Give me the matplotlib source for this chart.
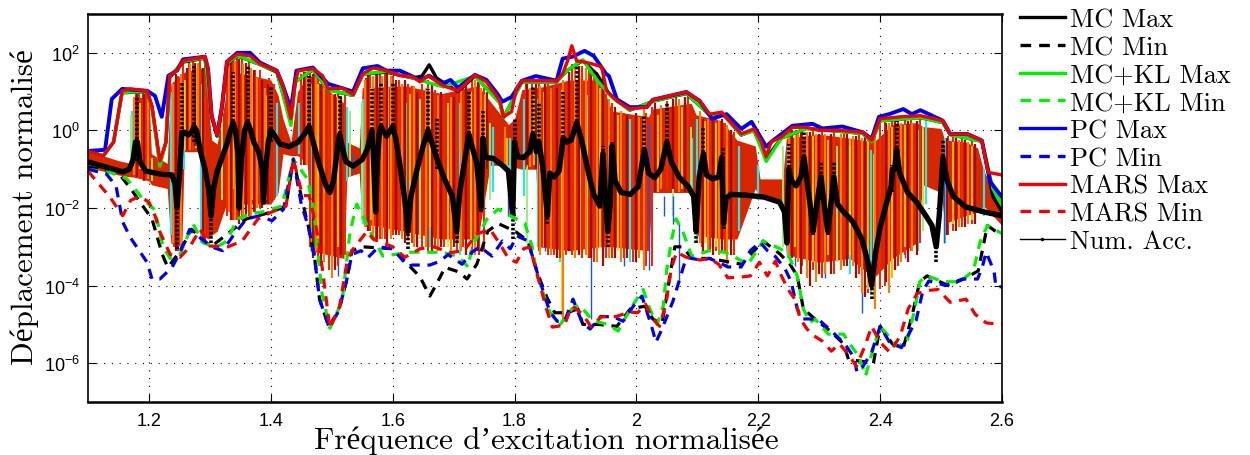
import numpy as np
import matplotlib
matplotlib.use("Agg")
import matplotlib.pyplot as plt
from matplotlib.lines import Line2D

plt.rcParams['mathtext.default'] = 'regular'

# All amplitudes are given as log10(normalised displacement)
mars_max_x = [1.10,1.125,1.142,1.156,1.169,1.197,1.205,1.218,1.228,1.234,1.246,1.256,1.292,1.297,1.303,1.312,1.32,1.328,1.345,1.366,1.382,1.41,1.42,1.433,1.44,1.445,1.469,1.485,1.494,1.518,1.535,1.551,1.568,1.59,1.612,1.633,1.645,1.658,1.683,1.707,1.735,1.754,1.776,1.782,1.795,1.803,1.812,1.869,1.879,1.887,1.894,1.902,1.912,1.926,1.943,1.951,1.968,1.989,2.017,2.027,2.082,2.104,2.12,2.14,2.172,2.193,2.205,2.213,2.221,2.238,2.256,2.279,2.3,2.333,2.372,2.386,2.4,2.433,2.466,2.503,2.515,2.543,2.567,2.577,2.6]
mars_max_y = [-0.53,-0.66,-0.30,1.02,1.07,1.02,0.63,-0.79,-0.30,1.41,1.54,1.8,1.9,1.59,0.38,-0.13,0.63,1.77,1.97,1.92,1.72,1.54,1.15,0.30,1.25,1.54,1.59,1.41,1.07,1.09,0.92,1.46,1.61,1.54,1.41,1.38,1.25,1.41,1.15,1.02,1.43,1.25,0.76,0.35,0.48,1.07,1.28,1.28,1.46,1.79,2.18,1.79,1.77,1.72,1.64,1.02,0.76,0.55,0.6,0.79,0.99,0.76,0.42,0.47,-0.09,0.04,-0.30,-0.68,-0.3,-0.17,0.08,0.08,0,0,-0.05,-0.26,0.3,0.35,0.38,0.25,-0.09,-0.09,-0.26,-1.08,-1.15]

pc_max_x = [1.10,1.128,1.139,1.156,1.197,1.21,1.221,1.232,1.246,1.256,1.292,1.297,1.303,1.312,1.32,1.328,1.345,1.366,1.382,1.41,1.42,1.433,1.442,1.469,1.494,1.535,1.551,1.575,1.59,1.612,1.645,1.66,1.68,1.695,1.707,1.735,1.754,1.772,1.78,1.795,1.812,1.835,1.869,1.879,1.895,1.915,1.93,1.95,1.955,1.968,1.989,2.017,2.027,2.082,2.104,2.124,2.148,2.172,2.189,2.213,2.221,2.256,2.289,2.305,2.338,2.372,2.386,2.398,2.415,2.438,2.452,2.466,2.48,2.503,2.515,2.543,2.567,2.581,2.6]
pc_max_y = [-0.53,-0.5,0.81,1.07,1.02,0.89,0.35,1.41,1.54,1.83,1.9,1.59,0.38,-0.13,0.63,1.77,2.0,2.0,1.75,1.54,1.15,0.55,1.54,1.62,1.2,1.0,1.6,1.66,1.54,1.54,1.3,1.41,1.2,1.3,1.1,1.43,1.3,0.94,0.74,0.86,1.28,1.4,1.28,1.85,1.9,2.05,1.92,1.46,1.4,0.8,0.6,0.6,0.79,0.99,0.76,0.3,0.42,0.04,0.22,-0.42,-0.3,0.12,0.17,0.05,0.1,-0.05,-0.22,0.35,0.42,0.55,0.42,0.52,0.42,0.25,-0.09,-0.09,-0.26,-1.33,-1.72]

mc_kl_max_x = [1.10,1.125,1.142,1.156,1.197,1.205,1.218,1.228,1.234,1.256,1.292,1.303,1.312,1.32,1.328,1.345,1.382,1.41,1.433,1.44,1.469,1.494,1.535,1.551,1.59,1.633,1.683,1.735,1.776,1.782,1.812,1.869,1.887,1.912,1.935,1.96,1.989,2.027,2.082,2.12,2.14,2.172,2.193,2.213,2.238,2.279,2.372,2.386,2.4,2.466,2.503,2.515,2.567,2.585,2.6]
mc_kl_max_y = [-0.53,-0.66,-0.30,0.98,1.0,0.6,-0.92,-0.3,1.38,1.78,1.87,0.35,-0.15,0.6,1.72,1.93,1.7,1.52,0.13,1.25,1.57,1.05,0.9,1.45,1.52,1.35,1.12,1.4,0.7,0.33,1.25,1.26,1.55,1.82,1.3,0.85,0.52,0.75,0.96,0.4,0.45,-0.12,0.0,-0.8,-0.2,0.05,-0.08,-0.3,0.25,0.33,0.2,-0.11,-0.28,-1.5,-1.93]

mc_max_x = [1.10,1.125,1.142,1.156,1.197,1.205,1.218,1.228,1.234,1.256,1.292,1.303,1.312,1.32,1.328,1.345,1.382,1.41,1.433,1.44,1.469,1.494,1.535,1.551,1.59,1.633,1.648,1.66,1.672,1.707,1.735,1.776,1.782,1.812,1.869,1.887,1.912,1.935,1.955,1.989,2.027,2.082,2.12,2.14,2.172,2.193,2.213,2.238,2.279,2.372,2.386,2.4,2.466,2.503,2.515,2.567,2.585,2.6]
mc_max_y = [-0.53,-0.66,-0.30,0.97,1.0,0.6,-0.85,-0.3,1.36,1.76,1.86,0.35,-0.15,0.6,1.7,1.92,1.7,1.5,0.2,1.25,1.56,1.05,0.9,1.45,1.5,1.35,1.4,1.69,1.35,1.0,1.4,0.72,0.33,1.25,1.25,1.55,1.8,1.45,0.95,0.52,0.75,0.95,0.4,0.45,-0.12,0.0,-0.72,-0.2,0.05,-0.08,-0.3,0.25,0.33,0.2,-0.11,-0.28,-1.7,-2.1]

mars_min_x = [1.10,1.136,1.157,1.17,1.185,1.2,1.21,1.218,1.235,1.251,1.267,1.284,1.3,1.33,1.353,1.379,1.402,1.425,1.437,1.452,1.463,1.472,1.48,1.497,1.513,1.525,1.533,1.558,1.568,1.6,1.62,1.645,1.667,1.695,1.717,1.738,1.76,1.776,1.79,1.803,1.815,1.825,1.838,1.851,1.862,1.882,1.89,1.895,1.912,1.925,1.943,1.966,1.989,2.002,2.015,2.027,2.038,2.049,2.057,2.066,2.082,2.104,2.12,2.135,2.15,2.172,2.187,2.202,2.215,2.228,2.238,2.249,2.26,2.269,2.28,2.292,2.305,2.32,2.333,2.348,2.361,2.375,2.386,2.4,2.416,2.433,2.446,2.461,2.482,2.495,2.515,2.541,2.556,2.574,2.597,2.6]
mars_min_y = [-1.05,-1.72,-2.2,-1.8,-1.7,-1.85,-2.2,-2.62,-3.2,-3.27,-3.0,-2.55,-2.98,-3.0,-2.85,-2.28,-2.1,-1.95,-0.74,-1.68,-1.68,-2.3,-3.0,-5.1,-4.53,-3.4,-3.1,-2.6,-2.8,-3.0,-3.27,-3.05,-3.0,-3.15,-3.1,-2.67,-2.55,-2.93,-3.3,-3.4,-3.05,-3.0,-3.75,-4.53,-5.07,-5.02,-4.68,-4.53,-4.74,-5.05,-4.8,-4.8,-4.68,-4.7,-4.48,-4.86,-5.05,-4.43,-3.57,-3.14,-3.27,-3.34,-3.3,-3.45,-3.8,-3.78,-3.75,-3.4,-3.75,-3.37,-3.75,-4.1,-4.35,-4.86,-5.12,-5.3,-5.43,-5.69,-5.5,-5.77,-6.08,-5.56,-5.05,-5.46,-5.72,-5.3,-4.6,-4.2,-4.12,-4.1,-4.43,-4.35,-4.74,-4.96,-5.0,-5.0]

pc_min_x = [1.10,1.13,1.146,1.157,1.169,1.197,1.205,1.218,1.238,1.251,1.267,1.302,1.321,1.338,1.36,1.382,1.402,1.421,1.437,1.45,1.462,1.472,1.48,1.495,1.511,1.525,1.533,1.548,1.56,1.577,1.6,1.625,1.633,1.661,1.678,1.691,1.714,1.73,1.743,1.763,1.78,1.793,1.804,1.822,1.837,1.858,1.87,1.882,1.896,1.911,1.924,1.941,1.962,1.978,1.995,2.009,2.025,2.032,2.042,2.06,2.082,2.104,2.12,2.135,2.15,2.172,2.187,2.203,2.215,2.228,2.244,2.254,2.264,2.272,2.298,2.32,2.342,2.357,2.362,2.372,2.386,2.4,2.415,2.435,2.459,2.47,2.48,2.508,2.535,2.56,2.568,2.574,2.587,2.59,2.6]
pc_min_y = [-1.0,-1.12,-1.43,-2.36,-2.75,-3.4,-3.83,-3.83,-3.53,-3.14,-2.55,-3.0,-3.1,-2.72,-2.28,-2.2,-2.33,-2.03,-0.74,-1.9,-2.5,-3.3,-4.35,-5.05,-4.68,-3.83,-3.2,-3.1,-3.27,-3.0,-3.05,-3.5,-3.47,-3.47,-3.37,-3.2,-3.45,-3.14,-3.0,-3.24,-2.85,-3.05,-2.72,-2.85,-3.65,-4.68,-4.92,-4.92,-4.35,-4.96,-5.12,-4.8,-4.8,-4.92,-4.53,-4.27,-5.05,-5.46,-5.12,-4.4,-3.27,-3.34,-3.3,-3.4,-3.52,-3.52,-3.1,-2.88,-3.1,-3.25,-3.57,-3.9,-4.6,-4.86,-4.86,-5.17,-5.5,-5.85,-6.23,-6.08,-5.72,-5.05,-5.45,-5.6,-4.9,-4.14,-3.88,-4.0,-3.83,-3.83,-3.5,-3.14,-3.63,-4.03,-4.03]

mc_kl_min_x = [1.10,1.14,1.164,1.19,1.21,1.223,1.235,1.251,1.272,1.289,1.312,1.328,1.345,1.366,1.387,1.418,1.427,1.437,1.46,1.47,1.484,1.497,1.517,1.53,1.541,
               1.563,1.584,1.628,1.681,1.707,1.724,1.73,1.755,1.773,1.793,1.817,1.829,1.837,1.858,1.875,1.894,1.907,1.928,1.953,1.97,1.99,2.011,2.022,2.034,2.044,2.05,2.058,2.065,2.076,2.091,2.12,2.145,2.158,2.183,2.208,2.236,2.249,2.264,2.274,2.285,2.293,2.315,2.34,2.348,2.365,2.376,2.389,2.4,2.428,2.444,2.457,2.465,2.477,2.504,2.531,2.553,2.564,2.576,2.6]
mc_kl_min_y = [-1.0,-1.1,-1.25,-1.77,-2.05,-3.0,-3.3,-3.2,-2.4,-2.9,-3.0,-2.85,-2.28,-2.15,-2.1,-1.95,-1.4,-0.74,-1.25,-2.0,-4.2,-5.1,-4.4,-2.62,-1.9,
               -2.6,-3.24,-3.14,-3.14,-3.24,-3.52,-3.0,-2.28,-2.03,-2.2,-2.4,-3.0,-3.75,-4.68,-5.0,-4.6,-4.5,-4.9,-5.0,-5.17,-4.6,-4.1,-4.6,-5.0,-4.53,-3.57,-2.8,-2.28,-2.6,-3.24,-3.1,-3.14,-3.24,-3.45,-2.85,-3.05,-3.19,-3.75,-4.6,-4.95,-4.86,-5.25,-5.25,-5.46,-5.82,-6.33,-5.6,-5.05,-5.56,-5.46,-4.6,-3.9,-3.75,-3.9,-3.9,-3.62,-2.88,-2.45,-2.66]

mc_min_x = [1.10,1.15,1.17,1.19,1.205,1.222,1.231,1.25,1.27,1.302,1.36,1.402,1.425,1.437,1.45,1.462,1.472,1.48,1.495,1.511,1.525,1.533,1.55,1.6,1.628,1.645,1.661,1.672,1.686,1.709,1.722,1.738,1.756,1.773,1.801,1.822,1.837,1.853,1.866,1.886,1.904,1.912,1.937,1.968,1.99,2.014,2.027,2.042,2.055,2.063,2.076,2.091,2.12,2.173,2.208,2.236,2.252,2.264,2.274,2.293,2.318,2.34,2.348,2.389,2.4,2.42,2.438,2.452,2.465,2.477,2.512,2.537,2.561,2.576,2.6]
mc_min_y = [-0.95,-1.1,-1.5,-1.95,-2.28,-3.2,-3.53,-3.14,-2.55,-3.0,-2.28,-2.1,-1.95,-0.74,-1.7,-2.5,-3.3,-4.35,-5.05,-4.68,-3.83,-3.1,-3.0,-3.05,-3.5,-3.78,-4.27,-3.96,-3.53,-3.65,-3.83,-3.45,-2.6,-2.4,-2.6,-2.85,-3.65,-4.3,-4.7,-4.7,-4.6,-5.0,-5.0,-5.05,-4.6,-4.53,-4.86,-5.0,-3.75,-3.0,-3.0,-3.3,-3.3,-3.45,-2.85,-3.19,-3.45,-3.75,-4.6,-4.86,-5.17,-5.5,-5.9,-6.0,-5.05,-5.5,-5.6,-4.8,-3.9,-3.75,-4.0,-3.83,-3.62,-2.45,-2.72]

# Num. Acc. curve
num_x = [1.10,1.13,1.157,1.168,1.174,1.178,1.181,1.185,1.195,1.22,1.238,1.243,1.246,1.25,1.254,1.258,1.264,1.27,1.274,1.278,1.284,1.292,1.298,1.302,1.306,1.312,1.32,1.328,1.334,1.338,1.342,1.346,1.348,1.352,1.357,1.362,1.367,1.372,1.38,1.386,1.388,1.392,1.396,1.40,1.405,1.415,1.43,1.445,1.455,1.463,1.468,1.478,1.49,1.497,1.503,1.51,1.513,1.517,1.523,1.535,1.55,1.558,1.564,1.566,1.568,1.572,1.575,1.578,1.581,1.584,1.59,1.596,1.60,1.605,1.612,1.62,1.625,1.63,1.64,1.65,1.658,1.664,1.672,1.685,1.698,1.705,1.71,1.718,1.725,1.73,1.738,1.745,1.748,1.752,1.765,1.78,1.79,1.797,1.80,1.805,1.815,1.825,1.83,1.836,1.84,1.846,1.854,1.858,1.865,1.873,1.88,1.886,1.893,1.902,1.91,1.92,1.93,1.94,1.945,1.95,1.953,1.957,1.96,1.965,1.975,1.99,2.003,2.013,2.02,2.03,2.04,2.05,2.057,2.07,2.085,2.094,2.098,2.103,2.11,2.115,2.125,2.135,2.14,2.143,2.147,2.155,2.18,2.21,2.235,2.243,2.247,2.25,2.255,2.262,2.27,2.275,2.28,2.285,2.29,2.296,2.303,2.308,2.314,2.32,2.324,2.33,2.34,2.355,2.37,2.38,2.386,2.392,2.4,2.41,2.418,2.42,2.424,2.427,2.432,2.445,2.46,2.475,2.485,2.492,2.497,2.503,2.51,2.52,2.54,2.57,2.6]
num_y = [-0.81,-0.95,-1.07,-1.0,-0.75,-0.3,-0.3,-0.8,-1.05,-1.13,-1.15,-1.4,-2.0,-1.2,-0.05,-0.05,-0.12,-0.05,0.1,0.0,-0.5,-1.0,-1.5,-2.2,-1.5,-1.05,-0.7,-0.35,0.0,0.2,0.0,-0.6,-2.0,-0.7,0.0,0.2,0.0,-0.3,-0.55,-1.0,-1.85,-0.9,-0.3,0.0,-0.1,-0.35,-0.42,-0.3,-0.1,0.1,-0.2,-0.8,-1.4,-1.6,-1.3,-0.4,-0.1,-0.4,-0.8,-0.92,-0.75,-0.5,-0.1,0.0,-0.5,-2.1,-0.8,-0.1,0.1,0.0,-0.15,0.0,0.1,-0.2,-0.9,-1.8,-2.6,-1.7,-1.0,-0.4,0.0,-0.3,-0.7,-1.25,-1.7,-2.6,-1.6,-0.8,-0.1,-0.4,-0.85,-2.0,-0.2,-0.7,-0.72,-0.9,-1.05,-2.2,-0.3,-0.68,-0.7,-0.55,-0.1,-0.55,-0.3,-0.9,-2.2,-1.1,-1.2,-1.05,-0.2,-0.3,-0.25,0.2,-0.25,-1.0,-1.65,-1.95,-0.6,-1.9,-2.6,-1.9,-0.4,-1.3,-1.6,-1.65,-1.45,-0.5,-1.1,-1.22,-1.0,-0.3,-0.8,-1.2,-1.45,-1.7,-2.6,-1.2,-0.6,-1.15,-1.25,-1.2,-0.7,-2.4,-1.75,-1.65,-1.67,-1.72,-1.85,-2.1,-2.9,-1.0,-1.3,-1.43,-1.2,-0.7,-1.3,-1.9,-2.6,-1.9,-1.2,-1.9,-2.6,-1.8,-1.2,-1.9,-2.1,-2.35,-2.8,-3.4,-4.0,-3.2,-2.5,-1.9,-1.45,-1.0,-1.0,-0.5,-1.1,-1.6,-1.85,-2.2,-2.45,-3.0,-2.2,-0.7,-1.3,-1.7,-1.97,-2.1,-2.2]

# Num. Acc. sharp features (dotted spikes)
peak_x = [1.18,1.254,1.274,1.338,1.362,1.40,1.463,1.513,1.566,1.581,1.60,1.658,1.672,1.725,1.748,1.80,1.83,1.84,1.88,1.902,1.945,1.96,2.013,2.05,2.11,2.142,2.25,2.275,2.303,2.324,2.42,2.427,2.503]
peak_top = [0.89,1.25,1.66,1.5,1.66,1.15,1.4,1.0,1.07,1.25,1.25,1.07,0.35,1.0,0.5,0.3,1.15,0.7,1.0,1.8,-0.4,-0.3,0.38,0.73,0.08,-0.42,-0.35,-0.04,-0.8,-0.82,-0.9,0.25,-0.26]
peak_base = [-0.8,-0.3,-0.3,0.0,0.0,-0.3,-0.1,-0.3,-0.1,-0.1,-0.1,-0.3,-1.0,-0.3,-0.8,-0.8,-0.3,-0.6,-0.3,0.0,-1.1,-0.9,-0.7,-0.6,-0.8,-1.3,-1.5,-0.8,-1.8,-1.8,-1.6,-0.8,-0.9]
dip_x = [1.246,1.302,1.348,1.388,1.572,1.625,1.705,1.745,1.797,1.854,1.953,2.098,2.143,2.247,2.29,2.314,2.386,2.492]
dip_bottom = [-3.05,-2.9,-2.0,-1.85,-2.1,-3.05,-2.9,-2.1,-2.8,-2.4,-3.0,-2.9,-2.55,-2.9,-2.7,-2.7,-4.35,-3.4]
dip_start = [-2.0,-2.2,-1.6,-1.4,-1.8,-2.6,-2.6,-1.8,-2.2,-2.2,-2.6,-2.6,-2.4,-2.9,-2.6,-2.6,-4.0,-3.0]

# Envelope of the dense family of sampled responses
fan_x = [1.10,1.15,1.17,1.174,1.20,1.204,1.23,1.236,1.254,1.258,1.285,1.29,1.297,1.303,1.312,1.325,1.33,1.40,1.412,1.42,1.433,1.444,1.46,1.466,1.52,1.525,1.545,1.55,1.62,1.68,1.74,1.76,1.79,1.80,1.812,1.835,1.84,1.89,1.94,1.96,2.02,2.026,2.09,2.098,2.14,2.165,2.195,2.203,2.24,2.246,2.30,2.35,2.39,2.42,2.46,2.47,2.50,2.506,2.54,2.56,2.57,2.6]
fan_hi = [-0.53,-0.78,-0.85,0.85,0.85,-0.6,-0.85,1.2,1.45,1.5,1.6,1.6,0.7,-0.25,-0.35,0.8,1.55,1.3,0.9,0.3,-0.3,1.0,1.4,1.4,0.7,-0.3,-0.45,1.1,1.15,0.95,1.15,0.75,0.15,0.3,1.05,1.1,1.1,1.3,1.3,0.5,0.35,0.55,0.7,0.4,0.25,-0.25,-0.4,-1.25,-1.25,-0.2,-0.1,-0.2,-0.3,0.15,0.2,0.1,0.05,-0.25,-0.3,-0.45,-1.05,-1.85]
fan_lo = [-0.95,-1.15,-1.2,-1.2,-1.3,-1.4,-1.5,-2.9,-3.0,-0.55,-0.55,-2.7,-2.8,-2.7,-2.6,-2.0,-1.9,-1.9,-1.6,-0.6,-0.65,-0.65,-0.85,-3.1,-3.3,-1.2,-1.1,-2.4,-2.6,-2.8,-2.8,-0.9,-0.9,-0.95,-1.0,-1.0,-3.0,-3.1,-3.0,-3.0,-3.1,-1.6,-1.6,-2.7,-2.8,-2.8,-1.5,-1.75,-1.8,-3.2,-3.4,-3.3,-3.8,-3.3,-2.9,-1.4,-1.6,-2.4,-2.2,-2.1,-1.95,-2.45]

# Individual samples, by colour: frequency, upper and lower excursion
red_x = [1.178,1.184,1.19,1.195,1.241,1.248,1.256,1.265,1.272,1.284,1.292,1.328,1.338,1.345,1.352,1.364,1.374,1.382,1.397,1.405,1.45,1.458,1.465,1.472,1.478,1.495,1.51,1.522,1.556,1.562,1.572,1.58,1.588,1.6,1.61,1.625,1.632,1.648,1.658,1.67,1.685,1.705,1.716,1.73,1.742,1.75,1.818,1.828,1.84,1.855,1.865,1.875,1.885,1.895,1.91,1.922,1.93,1.95,1.96,1.98,1.995,2.015,2.025,2.05,2.065,2.085,2.108,2.12,2.13,2.145,2.16,2.252,2.262,2.272,2.29,2.305,2.325,2.34,2.365,2.38,2.4,2.408,2.42,2.43,2.44,2.45,2.465,2.512,2.52,2.535,2.55]
red_hi = [1.0,1.0,1.0,1.0,1.25,1.4,1.7,1.78,1.8,1.8,1.75,1.7,1.9,1.9,1.85,1.8,1.55,1.55,1.35,1.2,1.45,1.5,1.52,1.5,1.4,1.0,0.95,0.9,1.35,1.45,1.5,1.5,1.45,1.4,1.3,1.2,1.15,1.2,1.3,1.05,0.95,0.95,1.2,1.35,1.2,1.1,1.2,1.2,1.2,1.2,1.15,1.15,1.25,1.7,1.65,1.6,1.55,0.95,0.7,0.45,0.4,0.45,0.6,0.75,0.85,0.85,0.35,0.35,0.3,0.2,-0.05,0.0,0.02,0.02,0.02,-0.05,-0.05,-0.08,-0.1,-0.15,0.25,0.25,0.3,0.3,0.3,0.3,0.3,-0.15,-0.15,-0.2,-0.25]
red_lo = [-1.2,-1.2,-1.25,-1.25,-3.0,-3.1,-0.5,-0.5,-0.5,-0.5,-2.9,-2.2,-2.3,-2.3,-2.3,-2.2,-2.1,-2.0,-1.9,-1.8,-0.9,-0.9,-3.0,-3.2,-3.4,-3.6,-3.5,-3.2,-2.5,-2.6,-2.8,-2.8,-2.8,-2.7,-2.7,-2.8,-2.9,-3.0,-3.1,-3.0,-3.0,-3.1,-3.0,-3.2,-3.2,-3.1,-0.95,-0.95,-3.1,-3.2,-3.2,-3.3,-3.2,-3.2,-3.3,-3.3,-3.4,-3.3,-3.3,-3.3,-3.4,-3.5,-3.5,-1.5,-1.5,-1.55,-3.0,-3.1,-3.1,-3.1,-3.2,-3.2,-3.3,-3.5,-3.6,-3.8,-3.7,-3.5,-3.7,-4.2,-4.1,-4.0,-3.8,-3.5,-3.2,-3.1,-2.9,-2.7,-2.6,-2.5,-2.4]

dark_x = [1.18,1.192,1.245,1.262,1.275,1.288,1.335,1.348,1.36,1.372,1.385,1.395,1.455,1.47,1.482,1.505,1.515,1.56,1.575,1.59,1.605,1.62,1.64,1.665,1.68,1.70,1.72,1.74,1.755,1.82,1.835,1.85,1.87,1.89,1.905,1.925,1.945,1.965,1.985,2.00,2.03,2.06,2.08,2.11,2.125,2.14,2.155,2.255,2.27,2.285,2.30,2.32,2.345,2.36,2.375,2.41,2.425,2.445,2.46,2.51,2.525,2.54,2.555]
dark_hi = [0.95,0.95,1.45,1.6,1.75,1.6,1.85,1.85,1.75,1.55,1.3,1.2,1.5,1.45,1.2,0.95,0.85,1.5,1.45,1.45,1.3,1.3,1.0,1.25,1.0,0.85,1.25,1.25,1.0,1.2,1.2,1.2,1.1,1.5,1.65,1.55,1.4,0.6,0.4,0.45,0.7,0.8,0.85,0.3,0.35,0.3,0.0,0.0,-0.05,-0.05,-0.1,-0.1,-0.1,-0.15,-0.15,0.2,0.25,0.25,0.25,-0.2,-0.2,-0.25,-0.35]
dark_lo = [-1.2,-1.3,-3.1,-0.5,-0.4,-2.9,-2.3,-2.4,-2.2,-2.1,-2.0,-1.9,-0.9,-3.3,-3.5,-3.6,-3.2,-2.6,-2.8,-2.9,-2.7,-2.9,-3.0,-3.1,-3.0,-3.0,-3.2,-3.1,-1.0,-0.9,-1.0,-3.0,-3.3,-3.1,-3.2,-3.3,-3.5,-3.3,-3.3,-3.4,-1.6,-1.5,-1.6,-3.1,-3.2,-3.1,-3.2,-3.3,-3.7,-4.0,-3.7,-3.7,-3.5,-3.8,-4.3,-3.9,-3.6,-3.4,-3.2,-2.7,-2.6,-2.5,-2.4]

orange_x = [1.175,1.198,1.24,1.252,1.268,1.28,1.332,1.342,1.355,1.368,1.378,1.39,1.46,1.475,1.488,1.5,1.555,1.568,1.583,1.598,1.615,1.635,1.655,1.675,1.695,1.712,1.735,1.745,1.785,1.825,1.842,1.86,1.88,1.9,1.918,1.935,1.955,1.975,2.005,2.012,2.04,2.07,2.105,2.118,2.135,2.148,2.25,2.265,2.28,2.295,2.31,2.335,2.355,2.37,2.392,2.415,2.435,2.452,2.51,2.53,2.545]
orange_hi = [0.85,0.9,1.2,1.45,1.7,1.75,1.7,1.8,1.7,1.6,1.35,1.1,1.45,1.4,1.25,0.95,1.3,1.4,1.4,1.4,1.2,1.15,1.1,0.9,0.85,1.1,1.3,1.1,0.1,1.1,1.15,1.1,1.3,1.6,1.6,1.5,0.8,0.5,0.35,0.55,0.65,0.8,0.5,0.3,0.25,0.15,-0.05,-0.02,-0.05,-0.08,-0.1,-0.1,-0.15,-0.2,0.1,0.2,0.2,0.2,-0.2,-0.25,-0.3]
orange_lo = [-1.15,-1.25,-2.9,-3.0,-0.5,-0.5,-2.1,-2.3,-2.3,-2.2,-2.0,-1.9,-0.9,-3.1,-3.4,-3.8,-2.5,-2.7,-2.8,-2.8,-2.8,-3.0,-3.0,-3.1,-3.2,-3.1,-3.2,-1.0,-1.0,-0.95,-3.2,-3.2,-4.9,-3.3,-3.2,-3.4,-3.3,-3.4,-3.3,-3.6,-1.5,-1.6,-2.9,-3.1,-3.2,-3.5,-3.2,-3.4,-3.8,-3.9,-3.7,-3.6,-3.5,-4.2,-4.6,-4.2,-3.4,-3.1,-2.6,-2.5,-2.4]

yellow_x = [1.186,1.26,1.278,1.34,1.37,1.392,1.478,1.51,1.565,1.592,1.628,1.662,1.69,1.728,1.752,1.788,1.832,1.848,1.878,1.908,1.94,1.97,2.0,2.035,2.075,2.112,2.13,2.26,2.29,2.315,2.35,2.38,2.42,2.44,2.47,2.52,2.55]
yellow_hi = [0.7,1.3,1.6,1.5,1.4,0.9,1.2,0.85,1.1,1.15,0.95,1.0,0.7,1.0,0.9,-0.2,0.9,1.0,1.05,1.4,1.1,0.4,0.3,0.4,0.6,0.25,0.2,-0.1,-0.15,-0.25,-0.2,-0.25,0.1,0.15,0.0,-0.3,-0.4]
yellow_lo = [-1.0,-0.5,-0.45,-1.5,-1.8,-1.8,-2.8,-3.0,-2.3,-2.6,-2.5,-2.5,-3.0,-3.0,-0.8,-1.0,-0.9,-3.0,-4.8,-3.1,-3.0,-3.1,-3.2,-1.6,-1.5,-2.9,-3.0,-3.0,-3.4,-3.2,-3.2,-4.1,-3.8,-3.0,-1.9,-2.4,-2.3]

cyan_x = [1.172,1.237,1.257,1.286,1.33,1.41,1.447,1.466,1.525,1.552,1.622,1.662,1.71,1.765,1.792,1.815,1.838,1.875,1.945,1.99,2.025,2.092,2.1,2.168,2.2,2.248,2.28,2.35,2.385,2.462,2.475,2.507,2.57]
cyan_hi = [0.5,1.0,1.3,1.2,1.4,0.7,0.7,1.2,0.6,0.8,0.7,0.8,0.7,0.1,-0.2,0.8,0.8,1.1,1.1,0.3,0.4,-0.2,0.3,-0.4,-0.9,-0.4,-0.2,-0.4,-0.5,0.0,0.3,-0.2,-1.0]
cyan_lo = [-1.0,-2.7,-1.0,-2.9,-2.1,-1.7,-0.6,-3.1,-1.3,-2.4,-2.7,-3.0,-3.2,-1.6,-2.0,-1.7,-3.0,-3.4,-3.3,-3.4,-3.3,-1.5,-2.9,-2.6,-1.8,-3.3,-3.8,-3.7,-4.2,-3.1,-1.9,-2.9,-2.2]

lime_x = [1.17,1.205,1.24,1.32,1.45,1.53,1.55,1.645,1.76,1.82,1.92,2.0,2.06,2.09,2.24,2.33,2.39,2.47]
lime_hi = [0.4,-0.7,0.8,1.0,0.8,0.5,0.7,0.8,0.2,0.6,0.9,0.2,0.5,0.1,-0.4,-0.4,-0.6,0.1]
lime_lo = [-0.9,-1.3,-2.5,-1.8,-0.7,-1.2,-2.3,-2.8,-1.8,-2.9,-3.3,-3.4,-2.2,-1.4,-3.0,-3.4,-4.3,-2.6]

blue_x = [1.248,1.51,1.535,1.64,1.79,1.85,1.925,1.925,1.98,2.02,2.045,2.06,2.07,2.26,2.31,2.37,2.44,2.505]
blue_hi = [0.6,0.4,-0.6,0.9,-1.0,0.5,-0.5,-2.2,0.3,0.2,-1.7,-1.7,-2.4,-0.4,-1.2,-0.7,0.2,-0.4]
blue_lo = [-2.6,-3.75,-1.1,-3.0,-2.2,-3.1,-2.8,-4.85,-3.5,-3.6,-2.2,-2.4,-3.9,-3.5,-3.8,-4.7,-3.3,-2.9]

legend_labels = ['MC Max','MC Min','MC+KL Max','MC+KL Min','PC Max','PC Min','MARS Max','MARS Min','Num. Acc.']
x_ticks = [1.2,1.4,1.6,1.8,2.0,2.2,2.4,2.6]
x_tick_labels = ['1.2','1.4','1.6','1.8','2','2.2','2.4','2.6']
y_ticks = [1e-6,1e-4,1e-2,1e0,1e2]
y_tick_labels = ['$10^{-6}$','$10^{-4}$','$10^{-2}$','$10^{0}$','$10^{2}$']

def v(a):
    return np.power(10.0, np.asarray(a, dtype=float))

SERIF = ['cmr10', 'Liberation Serif']

fig = plt.figure(figsize=(12.5, 4.56), dpi=100)
ax = fig.add_axes([88/1250, 1-403/456, 914/1250, 388/456])
ax.set_yscale('log')

ax.fill_between(fan_x, v(fan_lo), v(fan_hi), color='#d82600', lw=0, zorder=2)
strokes = [(cyan_x, cyan_hi, cyan_lo, '#22e8ee', 1.6),
           (lime_x, lime_hi, lime_lo, '#90f070', 1.3),
           (blue_x, blue_hi, blue_lo, '#1e50f0', 1.0),
           (red_x, red_hi, red_lo, '#ee2a00', 1.5),
           (yellow_x, yellow_hi, yellow_lo, '#ffd400', 1.2),
           (orange_x, orange_hi, orange_lo, '#ff7a00', 1.5),
           (dark_x, dark_hi, dark_lo, '#a80a00', 1.6)]
for xs, hi, lo, col, w in strokes:
    ax.vlines(xs, v(lo), v(hi), colors=col, lw=w, zorder=3)

ax.vlines(peak_x, v(peak_base), v(peak_top), colors='k', lw=2.6, linestyles=(0, (0.7, 0.5)), zorder=5)
ax.vlines(dip_x, v(dip_bottom), v(dip_start), colors='k', lw=2.6, linestyles=(0, (0.7, 0.5)), zorder=5)
ax.plot(num_x, v(num_y), color='k', lw=3.9, zorder=5, solid_joinstyle='round')

dash = (0, (3.2, 2.4))
ax.plot(mc_min_x, v(mc_min_y), color='k', lw=2.3, ls=dash, zorder=6)
ax.plot(mc_kl_min_x, v(mc_kl_min_y), color='#00f000', lw=2.3, ls=dash, zorder=6)
ax.plot(pc_min_x, v(pc_min_y), color='#0000f0', lw=2.3, ls=dash, zorder=7)
ax.plot(mars_min_x, v(mars_min_y), color='#f00000', lw=2.3, ls=dash, zorder=8)
ax.plot(mc_max_x, v(mc_max_y), color='k', lw=2.4, zorder=6)
ax.plot(mc_kl_max_x, v(mc_kl_max_y), color='#00f000', lw=2.4, zorder=6)
ax.plot(pc_max_x, v(pc_max_y), color='#0000f0', lw=2.8, zorder=7)
ax.plot(mars_max_x, v(mars_max_y), color='#f00000', lw=2.4, zorder=8)

ax.set_xlim(1.1, 2.6)
ax.set_ylim(1e-7, 1e3)
ax.set_xticks(x_ticks)
ax.set_xticklabels(x_tick_labels, family='Liberation Sans', fontsize=13)
ax.set_yticks(y_ticks)
ax.set_yticklabels(y_tick_labels, family='Liberation Sans', fontsize=13)
ax.minorticks_off()
ax.tick_params(direction='in', top=True, right=True, length=6, width=0.8)
ax.tick_params(axis='x', pad=7)
ax.tick_params(axis='y', pad=6)
ax.grid(True, which='major', color='k', lw=0.8, linestyle=(0, (1, 6)))
ax.set_axisbelow(True)
for name, s in ax.spines.items():
    s.set_linewidth(1.8 if name in ('top', 'bottom') else 1.2)
    s.set_zorder(10)

fig.text(546/1250, 1-441/456, "Fréquence d’excitation normalisée", family=SERIF, fontsize=22.4,
         ha='center', va='center')
fig.text(25/1250, 1-207/456, "Déplacement normalisé", family=SERIF, fontsize=22.4,
         ha='center', va='center', rotation=90)

handles = [Line2D([], [], color='k', lw=2.4),
           Line2D([], [], color='k', lw=2.4, ls=(0, (3.2, 2.4))),
           Line2D([], [], color='#00f000', lw=2.4),
           Line2D([], [], color='#00f000', lw=2.4, ls=(0, (3.2, 2.4))),
           Line2D([], [], color='#0000f0', lw=2.4),
           Line2D([], [], color='#0000f0', lw=2.4, ls=(0, (3.2, 2.4))),
           Line2D([], [], color='#f00000', lw=2.4),
           Line2D([], [], color='#f00000', lw=2.4, ls=(0, (3.2, 2.4))),
           Line2D([], [], color='k', lw=1, marker='.', ms=3)]
leg = fig.legend(handles, legend_labels, loc='upper left', bbox_to_anchor=(1012/1250, 1-1/456),
                 frameon=False, prop={'family': SERIF, 'size': 19}, labelspacing=0.15,
                 handlelength=1.7, handletextpad=0.2, borderaxespad=0, borderpad=0.3)

fig.savefig('out.png', dpi=100)
